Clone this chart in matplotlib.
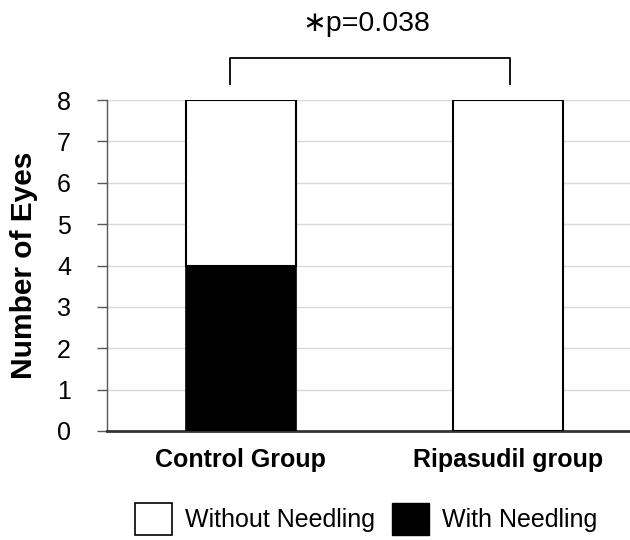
import numpy as np
import matplotlib
matplotlib.use("Agg")
import matplotlib.pyplot as plt
from matplotlib.patches import Patch

plt.rcParams['font.family'] = ['Liberation Sans', 'DejaVu Sans']

# data
groups = ['Control Group', 'Ripasudil group']
with_needling = [4, 0]
without_needling = [4, 8]
p_text = '\u2217p=0.038'

fig = plt.figure(figsize=(6.3, 5.4), dpi=100)
ax = fig.add_axes([107 / 630, 109 / 540, 535 / 630, 331 / 540])

x = np.arange(len(groups))
w = 0.41
ax.bar(x, with_needling, w, color='black', edgecolor='black', linewidth=1.2, zorder=3)
ax.bar(x, without_needling, w, bottom=with_needling, color='white',
       edgecolor='black', linewidth=1.5, zorder=3)

ax.set_xlim(-0.5, 1.5)
ax.set_ylim(0, 8)
ax.set_yticks(range(0, 9))
ax.set_xticks(x)
ax.set_xticklabels(groups, fontweight='bold', fontsize=18)
ax.tick_params(axis='x', length=0, pad=12)
ax.tick_params(axis='y', length=7, width=1, color='#555555', pad=19, labelsize=18)
ax.yaxis.grid(True, color='#d9d9d9', linewidth=1, zorder=0)
ax.set_axisbelow(True)

for s in ['top', 'right']:
    ax.spines[s].set_visible(False)
ax.spines['left'].set_color('#555555')
ax.spines['left'].set_linewidth(1)
ax.spines['bottom'].set_color('#333333')
ax.spines['bottom'].set_linewidth(2)

ax.set_ylabel('Number of Eyes', fontweight='bold', fontsize=21.5)
ax.yaxis.set_label_coords(-69 / 535, 0.5)

# significance bracket
bx0, bx1, by0, by1 = -0.039, 1.006, 8.38, 9.01
ax.plot([bx0, bx0, bx1, bx1], [by0, by1, by1, by0], color='black',
        linewidth=1.3, clip_on=False)
ax.text(0.47, 9.83, p_text, ha='center', va='center', fontsize=20.5,
        family=['Liberation Sans', 'DejaVu Sans'], clip_on=False)

handles = [Patch(facecolor='white', edgecolor='black', linewidth=1.2),
           Patch(facecolor='black', edgecolor='black')]
fig.legend(handles, ['Without Needling', 'With Needling'], loc='upper center',
           bbox_to_anchor=(366 / 630, 1 - 503 / 540), ncol=2, frameon=False,
           fontsize=18, handlelength=1.5, handleheight=1.6, handletextpad=0.5,
           columnspacing=0.68, borderpad=0, borderaxespad=0)

fig.savefig('out.png', dpi=100)
